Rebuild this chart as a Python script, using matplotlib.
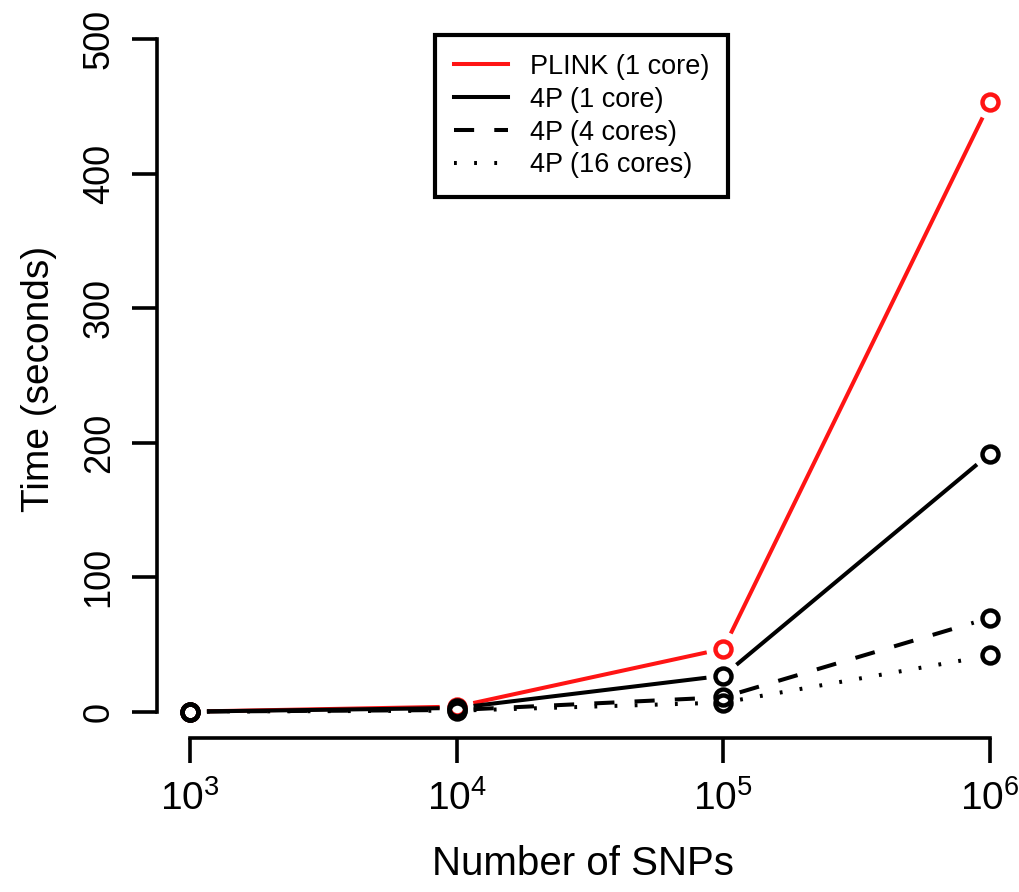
import numpy as np
import matplotlib
matplotlib.use("Agg")
import matplotlib.pyplot as plt

plt.rcParams['font.family'] = ['Liberation Sans', 'DejaVu Sans']
plt.rcParams['mathtext.fontset'] = 'custom'
plt.rcParams['mathtext.rm'] = 'Liberation Sans'
plt.rcParams['mathtext.it'] = 'Liberation Sans'

# data
snps = [1e3, 1e4, 1e5, 1e6]
plink_1 = [0.3, 4, 47, 453]
p4_1 = [0.3, 3, 27, 192]
p4_4 = [0.3, 1.5, 11, 70]
p4_16 = [0.3, 1.0, 7, 42]

series = [
    ("PLINK (1 core)", plink_1, "#ff1414", "-"),
    ("4P (1 core)", p4_1, "black", "-"),
    ("4P (4 cores)", p4_4, "black", (0, (5, 5))),
    ("4P (16 cores)", p4_16, "black", (0, (0.7, 4.3))),
]

fig = plt.figure(figsize=(10.2, 8.92), dpi=100)
W, H = 1020, 892
ax = fig.add_axes([157 / W, 1 - 738 / H, (1010 - 157) / W, (738 - 20) / H])
ax.set_xscale('log')
ax.set_xlim(10 ** 2.8765, 10 ** 6.0748)
ax.set_ylim(-19.3, 514.1)

lw = 2.9
gap = 17  # pixels left empty round each point, like R type="b"


def gapped(ax, xs, ys, color, ls):
    fig.canvas.draw()
    pts = ax.transData.transform(np.column_stack([xs, ys]))
    inv = ax.transData.inverted()
    for i in range(len(pts) - 1):
        a, b = pts[i], pts[i + 1]
        d = b - a
        n = np.hypot(*d)
        if n <= 2 * gap:
            continue
        u = d / n
        seg = inv.transform(np.array([a + u * gap, b - u * gap]))
        ax.plot(seg[:, 0], seg[:, 1], color=color, ls=ls, lw=lw,
                dash_capstyle='butt', solid_capstyle='butt')
    ax.plot(xs, ys, ls='none', marker='o', ms=11.5, mfc='none',
            mec=color, mew=3.2)


for label, vals, color, ls in series:
    gapped(ax, snps, vals, color, ls)

handles = [plt.Line2D([], [], color=c, ls=s, lw=lw) for _, _, c, s in series]
leg = ax.legend(handles, [s[0] for s in series], loc='upper left',
                bbox_to_anchor=((435 - 157) / (1010 - 157), 1 - (35 - 20) / 718),
                fontsize=19.5, frameon=True, fancybox=False, handlelength=2.0,
                handletextpad=0.8, borderpad=0.7, labelspacing=0.25,
                edgecolor='black', framealpha=1, borderaxespad=0)
leg.get_frame().set_linewidth(3)

for s in ['top', 'right']:
    ax.spines[s].set_visible(False)
ax.spines['left'].set_bounds(0, 500)
ax.spines['bottom'].set_bounds(1e3, 1e6)
ax.spines['left'].set_linewidth(2.6)
ax.spines['bottom'].set_linewidth(2.6)

ax.set_yticks([0, 100, 200, 300, 400, 500])
ax.set_yticklabels(['0', '100', '200', '300', '400', '500'], rotation=90,
                   va='center', fontsize=26)
ax.set_xticks(snps)
ax.set_xticklabels([r'$10^{3}$', r'$10^{4}$', r'$10^{5}$', r'$10^{6}$'],
                   fontsize=28)
ax.minorticks_off()
ax.tick_params(axis='both', length=18, width=2.6, direction='out')
ax.tick_params(axis='y', pad=11)
ax.tick_params(axis='x', pad=12)

ax.set_xlabel('Number of SNPs', fontsize=29, labelpad=20)
ax.set_ylabel('Time (seconds)', fontsize=28, labelpad=18)

fig.savefig('out.png', dpi=100)
